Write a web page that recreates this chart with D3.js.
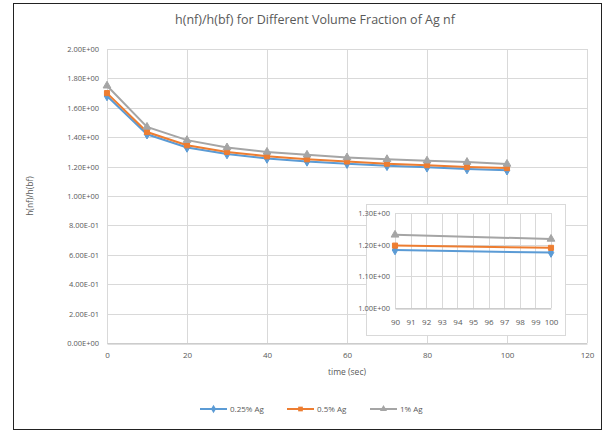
<!DOCTYPE html>
<html>
<head>
<meta charset="utf-8">
<script src="https://cdn.jsdelivr.net/npm/d3@7"></script>
<style>
  html, body { margin: 0; padding: 0; background: #fff; }
  svg text { font-family: "Open Sans", "Liberation Sans", sans-serif; fill: #595959; }
</style>
</head>
<body>
<svg id="chart" width="613" height="432"></svg>
<script>
// Heat transfer coefficient ratio vs time for three Ag nanofluid volume fractions
const time = [0, 10, 20, 30, 40, 50, 60, 70, 80, 90, 100];
const ag025 = [1.68, 1.42, 1.33, 1.285, 1.255, 1.235, 1.22, 1.205, 1.195, 1.183, 1.175];
const ag05  = [1.70, 1.435, 1.345, 1.30, 1.27, 1.25, 1.235, 1.22, 1.21, 1.197, 1.19];
const ag1   = [1.75, 1.47, 1.38, 1.33, 1.30, 1.28, 1.262, 1.25, 1.24, 1.231, 1.218];
const seriesNames = ["0.25% Ag", "0.5% Ag", "1% Ag"];

const xTicks = [0, 20, 40, 60, 80, 100, 120];
const yTicks = [0, 0.2, 0.4, 0.6, 0.8, 1.0, 1.2, 1.4, 1.6, 1.8, 2.0];
// Zoomed view of the last interval
const insetCats = [90, 91, 92, 93, 94, 95, 96, 97, 98, 99, 100];
const insetTicks = [1.0, 1.1, 1.2, 1.3];

const colors = ["#5B9BD5", "#ED7D31", "#A5A5A5"];
const symbols = [d3.symbolDiamond, d3.symbolSquare, d3.symbolTriangle];

function sci(v) {
  const [m, e] = v.toExponential(2).split("e");
  const n = +e;
  return m + "E" + (n < 0 ? "-" : "+") + String(Math.abs(n)).padStart(2, "0");
}

const svg = d3.select("#chart");

// chart frame
svg.append("rect").attr("x", 13.5).attr("y", 3.5).attr("width", 588).attr("height", 426)
  .attr("fill", "#fff").attr("stroke", "#222").attr("stroke-width", 1);

svg.append("text").attr("x", 315).attr("y", 24).attr("text-anchor", "middle")
  .attr("font-size", 12.5).text("h(nf)/h(bf) for Different Volume Fraction of Ag nf");

const x = d3.scaleLinear().domain([0, 120]).range([107, 587]);
const y = d3.scaleLinear().domain([0, 2]).range([343, 49]);

// gridlines
svg.append("g").selectAll("line").data(yTicks).join("line")
  .attr("x1", x(0)).attr("x2", x(120))
  .attr("y1", d => Math.round(y(d)) + 0.5).attr("y2", d => Math.round(y(d)) + 0.5)
  .attr("stroke", "#d9d9d9");
svg.append("g").selectAll("line").data(xTicks).join("line")
  .attr("y1", y(0)).attr("y2", y(2))
  .attr("x1", d => Math.round(x(d)) + 0.5).attr("x2", d => Math.round(x(d)) + 0.5)
  .attr("stroke", "#d9d9d9");

// axes
const xAxis = svg.append("g").attr("transform", `translate(0,${Math.round(y(0)) + 0.5})`)
  .call(d3.axisBottom(x).tickValues(xTicks).tickSize(0).tickPadding(9).tickFormat(d3.format("d")));
xAxis.select(".domain").attr("stroke", "#bfbfbf");
xAxis.selectAll("text").attr("font-size", 8);

const yAxis = svg.append("g").attr("transform", `translate(${x(0) - 8},0)`)
  .call(d3.axisLeft(y).tickValues(yTicks).tickSize(0).tickPadding(0).tickFormat(sci));
yAxis.select(".domain").remove();
yAxis.selectAll("text").attr("font-size", 7.5);

svg.append("text").attr("x", 347).attr("y", 375).attr("text-anchor", "middle")
  .attr("font-size", 8.5).text("time (sec)");
svg.append("text").attr("transform", "translate(33,196) rotate(-90)")
  .attr("text-anchor", "middle").attr("font-size", 8.5).text("h(nf)/h(bf)");

const allSeries = [ag025, ag05, ag1];
const line = d3.line().x(d => x(d[0])).y(d => y(d[1]));

allSeries.forEach((vals, i) => {
  const pts = time.map((t, k) => [t, vals[k]]);
  const g = svg.append("g");
  g.append("path").datum(pts).attr("d", line)
    .attr("fill", "none").attr("stroke", colors[i]).attr("stroke-width", 2);
  g.selectAll("path.m").data(pts).join("path").attr("class", "m")
    .attr("transform", d => `translate(${x(d[0])},${y(d[1])})`)
    .attr("d", d3.symbol().type(symbols[i]).size(26))
    .attr("fill", colors[i]).attr("stroke", colors[i]);
});

// inset panel
const inset = svg.append("g");
inset.append("rect").attr("x", 366.5).attr("y", 204.5).attr("width", 199).attr("height", 131)
  .attr("fill", "#fff").attr("stroke", "#d9d9d9");

const xi = d3.scalePoint().domain(insetCats).range([395, 551]);
const yi = d3.scaleLinear().domain([1.0, 1.3]).range([308, 213]);

inset.append("g").selectAll("line").data(insetTicks).join("line")
  .attr("x1", 395).attr("x2", 551)
  .attr("y1", d => Math.round(yi(d)) + 0.5).attr("y2", d => Math.round(yi(d)) + 0.5)
  .attr("stroke", "#d9d9d9");
inset.append("g").selectAll("line").data(insetCats).join("line")
  .attr("y1", yi(1.0)).attr("y2", yi(1.3))
  .attr("x1", d => Math.round(xi(d)) + 0.5).attr("x2", d => Math.round(xi(d)) + 0.5)
  .attr("stroke", "#d9d9d9");

const xiAxis = inset.append("g").attr("transform", `translate(0,${Math.round(yi(1.0)) + 0.5})`)
  .call(d3.axisBottom(xi).tickSize(0).tickPadding(11));
xiAxis.select(".domain").attr("stroke", "#bfbfbf");
xiAxis.selectAll("text").attr("font-size", 8);

const yiAxis = inset.append("g").attr("transform", "translate(390,0)")
  .call(d3.axisLeft(yi).tickValues(insetTicks).tickSize(0).tickPadding(0).tickFormat(sci));
yiAxis.select(".domain").remove();
yiAxis.selectAll("text").attr("font-size", 7.5);

const lineI = d3.line().x(d => xi(d[0])).y(d => yi(d[1]));
allSeries.forEach((vals, i) => {
  const pts = [[90, vals[time.indexOf(90)]], [100, vals[time.indexOf(100)]]];
  const g = inset.append("g");
  g.append("path").datum(pts).attr("d", lineI)
    .attr("fill", "none").attr("stroke", colors[i]).attr("stroke-width", 2);
  g.selectAll("path.m").data(pts).join("path").attr("class", "m")
    .attr("transform", d => `translate(${xi(d[0])},${yi(d[1])})`)
    .attr("d", d3.symbol().type(symbols[i]).size(26))
    .attr("fill", colors[i]).attr("stroke", colors[i]);
});

// legend
const legendX = [200, 287, 370];
const lg = svg.append("g");
seriesNames.forEach((name, i) => {
  const lx = legendX[i];
  const ly = 409;
  lg.append("line").attr("x1", lx).attr("x2", lx + 27).attr("y1", ly).attr("y2", ly)
    .attr("stroke", colors[i]).attr("stroke-width", 2);
  lg.append("path").attr("transform", `translate(${lx + 13.5},${ly})`)
    .attr("d", d3.symbol().type(symbols[i]).size(22)).attr("fill", colors[i]);
  lg.append("text").attr("x", lx + 30).attr("y", ly + 3).attr("font-size", 8).text(name);
});
</script>
</body>
</html>
